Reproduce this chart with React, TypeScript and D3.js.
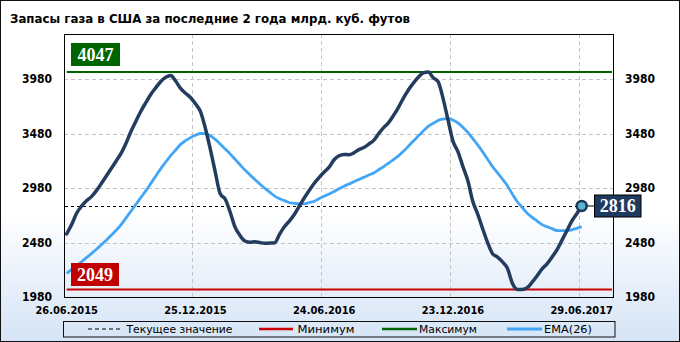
import React from 'react';
import * as d3 from 'd3';

const title = 'Запасы газа в США за последние 2 года млрд. куб. футов';
const xTickLabels = ['26.06.2015', '25.12.2015', '24.06.2016', '23.12.2016', '29.06.2017'];
const xTickIndex = [0, 26, 52, 78, 104];
const yTicks = [1980, 2480, 2980, 3480, 3980];
const legendLabels = ['Текущее значение', 'Минимум', 'Максимум', 'EMA(26)'];

const storage = [
  2560, 2645, 2749, 2815, 2864, 2902, 2957, 3023, 3091, 3160,
  3230, 3301, 3395, 3503, 3597, 3689, 3767, 3843, 3903, 3960,
  3998, 4015, 3964, 3896, 3851, 3813, 3755, 3685, 3530, 3338,
  3127, 2928, 2880, 2761, 2622, 2545, 2494, 2482, 2487, 2480,
  2473, 2476, 2479, 2557, 2627, 2680, 2741, 2817, 2892, 2961,
  3025, 3079, 3128, 3173, 3241, 3277, 3290, 3287, 3304, 3334,
  3353, 3385, 3419, 3481, 3536, 3581, 3648, 3723, 3808, 3882,
  3945, 3999, 4038, 4047, 3995, 3958, 3805, 3607, 3412, 3316,
  3180, 3050, 2860, 2742, 2607, 2480, 2378, 2347, 2303, 2244,
  2106, 2049, 2050, 2066, 2116, 2175, 2238, 2285, 2346, 2413,
  2500, 2588, 2678, 2745, 2816,
];

const ema26 = [
  2198, 2233, 2268, 2304, 2341, 2379, 2418, 2460, 2502, 2547,
  2593, 2645, 2707, 2770, 2832, 2895, 2957, 3024, 3092, 3159,
  3220, 3279, 3330, 3382, 3416, 3444, 3466, 3482, 3480, 3462,
  3428, 3386, 3340, 3295, 3245, 3195, 3146, 3102, 3060, 3018,
  2979, 2943, 2907, 2883, 2865, 2846, 2840, 2836, 2836, 2848,
  2860, 2884, 2906, 2927, 2949, 2975, 2998, 3018, 3039, 3059,
  3079, 3100, 3120, 3149, 3178, 3209, 3243, 3277, 3318, 3365,
  3413, 3458, 3504, 3548, 3575, 3602, 3614, 3620, 3605, 3580,
  3540, 3492, 3436, 3378, 3313, 3245, 3177, 3121, 3064, 3002,
  2925, 2855, 2802, 2750, 2712, 2678, 2645, 2625, 2608, 2591,
  2589, 2589, 2597, 2610, 2626,
];

const currentValue = 2816;
const maxValue = 4047;
const minValue = 2049;

const W = 680;
const H = 342;
const plotLeft = 64;
const plotRight = 613;
const plotTop = 34;
const plotBottom = 297;

const sansBold = "'DejaVu Sans Condensed', 'DejaVu Sans', sans-serif";

export default function App() {
  const x = d3.scaleLinear().domain([0, 104]).range([66.7, 581.7]);
  const y = d3.scaleLinear().domain([1980, 4396]).range([plotBottom, plotTop]);

  const line = d3
    .line<number>()
    .x((_, i) => x(i))
    .y((d) => y(d))
    .curve(d3.curveMonotoneX);

  const lastIdx = storage.length - 1;
  const cx = x(lastIdx);
  const cy = y(currentValue);
  const refStart = x(0);
  const refEnd = 612;

  const legendY = 329;
  const legendItems = [
    { x1: 88, x2: 120, tx: 126.5, tw: 106, color: '#000', width: 1, dash: '4,3' },
    { x1: 259, x2: 293, tx: 297.5, tw: 57, color: '#cc0000', width: 2.5, dash: undefined },
    { x1: 382, x2: 417, tx: 419, tw: 58, color: '#006400', width: 2.5, dash: undefined },
    { x1: 507, x2: 542, tx: 544, tw: 48, color: '#42a5f5', width: 3, dash: undefined },
  ];

  return (
    <svg
      width={W}
      height={H}
      viewBox={`0 0 ${W} ${H}`}
      style={{ position: 'absolute', left: 0, top: 0, display: 'block' }}
    >
      <defs>
        <linearGradient id="bg" x1="0" y1="0" x2="0" y2="1">
          <stop offset="0" stopColor="#ffffff" />
          <stop offset="0.62" stopColor="#ffffff" />
          <stop offset="1" stopColor="#d5e4f6" />
        </linearGradient>
      </defs>
      <rect x={0} y={0} width={W} height={H} fill="url(#bg)" />
      <rect x={0.5} y={0.5} width={W - 1} height={H - 1} fill="none" stroke="#111" strokeWidth={1} />

      <text
        x={10}
        y={23}
        fontFamily={sansBold}
        fontWeight="bold"
        fontSize={13}
        fill="#000"
        textLength={400}
        lengthAdjust="spacingAndGlyphs"
      >
        {title}
      </text>

      {/* grid */}
      {yTicks.slice(1).map((t) => (
        <line
          key={`gy${t}`}
          x1={plotLeft}
          x2={plotRight}
          y1={Math.round(y(t)) + 0.5}
          y2={Math.round(y(t)) + 0.5}
          stroke="#c4c4c4"
          strokeWidth={1}
          strokeDasharray="4,3"
        />
      ))}
      {xTickIndex.slice(1).map((t) => (
        <line
          key={`gx${t}`}
          x1={Math.round(x(t)) - 2.5}
          x2={Math.round(x(t)) - 2.5}
          y1={plotTop}
          y2={plotBottom}
          stroke="#c4c4c4"
          strokeWidth={1}
          strokeDasharray="4,3"
        />
      ))}

      {/* plot frame */}
      <rect
        x={plotLeft + 0.5}
        y={plotTop + 0.5}
        width={plotRight - plotLeft}
        height={plotBottom - plotTop}
        fill="none"
        stroke="#000"
        strokeWidth={1}
      />

      {/* y labels */}
      {yTicks.map((t) => (
        <g key={`yl${t}`}>
          <text
            x={52}
            y={y(t)}
            dy="0.35em"
            textAnchor="end"
            fontFamily={sansBold}
            fontWeight="bold"
            fontSize={12}
            fill="#000"
          >
            {t}
          </text>
          <text
            x={625}
            y={y(t)}
            dy="0.35em"
            textAnchor="start"
            fontFamily={sansBold}
            fontWeight="bold"
            fontSize={12}
            fill="#000"
          >
            {t}
          </text>
        </g>
      ))}

      {/* x labels */}
      {xTickIndex.map((t, i) => (
        <text
          key={`xl${t}`}
          x={x(t)}
          y={310}
          dy="0.35em"
          textAnchor="middle"
          fontFamily={sansBold}
          fontWeight="bold"
          fontSize={11}
          fill="#000"
        >
          {xTickLabels[i]}
        </text>
      ))}

      {/* reference lines */}
      <line x1={refStart} x2={refEnd} y1={y(maxValue)} y2={y(maxValue)} stroke="#006400" strokeWidth={2} />
      <line x1={refStart} x2={refEnd} y1={y(minValue)} y2={y(minValue)} stroke="#cc0000" strokeWidth={2} />
      <line
        x1={plotLeft + 1}
        x2={cx}
        y1={Math.round(cy) + 0.5}
        y2={Math.round(cy) + 0.5}
        stroke="#000"
        strokeWidth={1}
        strokeDasharray="3,3"
      />

      {/* series */}
      <path d={line(ema26) || ''} fill="none" stroke="#42a5f5" strokeWidth={2.8} strokeLinejoin="round" />
      <path d={line(storage) || ''} fill="none" stroke="#243d5e" strokeWidth={3.5} strokeLinejoin="round" strokeLinecap="round" />

      {/* max label */}
      <rect x={71} y={y(maxValue) - 29} width={49} height={23} fill="#006400" />
      <text
        x={95.5}
        y={y(maxValue) - 17.5}
        dy="0.36em"
        textAnchor="middle"
        fontFamily="'Liberation Serif', 'DejaVu Serif', serif"
        fontWeight="bold"
        fontSize={18}
        fill="#fff"
      >
        {maxValue}
      </text>

      {/* min label */}
      <rect x={71} y={y(minValue) - 26.5} width={48} height={23} fill="#c00000" />
      <text
        x={95}
        y={y(minValue) - 15}
        dy="0.36em"
        textAnchor="middle"
        fontFamily="'Liberation Serif', 'DejaVu Serif', serif"
        fontWeight="bold"
        fontSize={18}
        fill="#fff"
      >
        {minValue}
      </text>

      {/* current marker & label */}
      <line x1={cx} x2={594} y1={cy} y2={cy} stroke="#000" strokeWidth={1} />
      <circle cx={cx} cy={cy} r={5} fill="#5ab4cf" stroke="#1c3558" strokeWidth={2.5} />
      <rect x={594.5} y={cy - 11} width={46.5} height={22} fill="#1f3a5f" stroke="#000" strokeWidth={1} />
      <text
        x={617.75}
        y={cy}
        dy="0.36em"
        textAnchor="middle"
        fontFamily="'Liberation Serif', 'DejaVu Serif', serif"
        fontWeight="bold"
        fontSize={18}
        fill="#fff"
      >
        {currentValue}
      </text>

      {/* legend */}
      <rect x={63.5} y={321.5} width={551.5} height={15.5} fill="none" stroke="#111" strokeWidth={1} />
      {legendItems.map((it, i) => (
        <g key={`lg${i}`}>
          <line
            x1={it.x1}
            x2={it.x2}
            y1={legendY}
            y2={legendY}
            stroke={it.color}
            strokeWidth={it.width}
            strokeDasharray={it.dash}
          />
          <text
            x={it.tx}
            y={legendY}
            dy="0.35em"
            fontFamily="'DejaVu Sans Condensed', 'DejaVu Sans', sans-serif"
            fontSize={11}
            fill="#000"
            textLength={it.tw}
            lengthAdjust="spacingAndGlyphs"
          >
            {legendLabels[i]}
          </text>
        </g>
      ))}
    </svg>
  );
}
